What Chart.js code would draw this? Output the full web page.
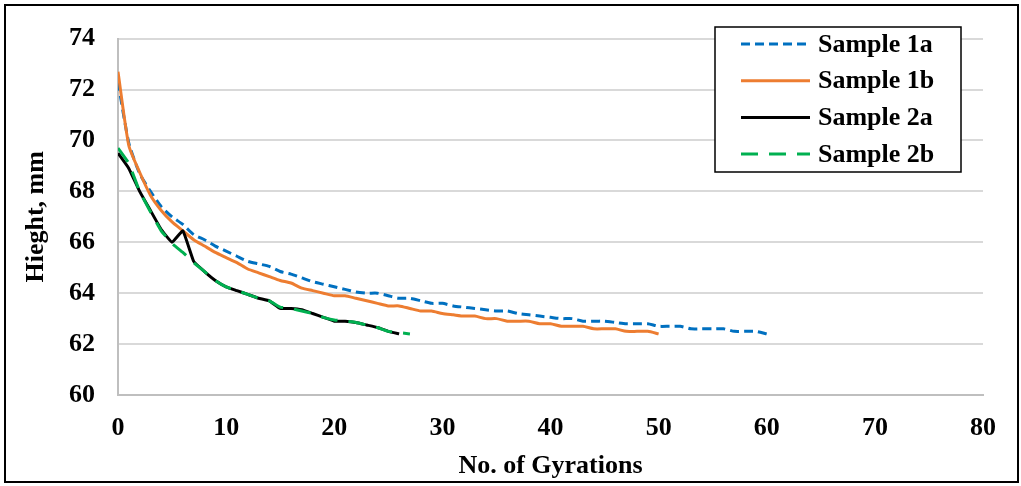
<!DOCTYPE html>
<html>
<head>
<meta charset="utf-8">
<script src="https://cdn.jsdelivr.net/npm/chart.js@4.4.0/dist/chart.umd.min.js"></script>
<style>
  html, body { margin: 0; padding: 0; background: #fff; }
  canvas { display: block; }
</style>
</head>
<body>
<canvas id="gyr" width="1021" height="486"></canvas>
<script>
// heights (mm) read per gyration, starting at gyration 0
const sample1a = [72.3, 69.9, 68.7, 68.0, 67.4, 67.0, 66.7, 66.3, 66.1, 65.85,
  65.65, 65.45, 65.25, 65.15, 65.05, 64.85, 64.75, 64.6, 64.45, 64.35,
  64.25, 64.15, 64.05, 64.0, 64.0, 63.9, 63.8, 63.8, 63.7, 63.6,
  63.6, 63.5, 63.45, 63.4, 63.35, 63.3, 63.3, 63.2, 63.15, 63.1,
  63.05, 63.0, 63.0, 62.9, 62.9, 62.9, 62.85, 62.8, 62.8, 62.8,
  62.7, 62.7, 62.7, 62.6, 62.6, 62.6, 62.6, 62.5, 62.5, 62.5, 62.4];
const sample1b = [72.7, 69.8, 68.75, 67.85, 67.25, 66.8, 66.45, 66.1, 65.85, 65.6,
  65.4, 65.2, 64.95, 64.8, 64.65, 64.5, 64.4, 64.2, 64.1, 64.0,
  63.9, 63.9, 63.8, 63.7, 63.6, 63.5, 63.5, 63.4, 63.3, 63.3,
  63.2, 63.15, 63.1, 63.1, 63.0, 63.0, 62.9, 62.9, 62.9, 62.8,
  62.8, 62.7, 62.7, 62.7, 62.6, 62.6, 62.6, 62.5, 62.5, 62.5, 62.4];
const sample2a = [69.5, 68.9, 68.0, 67.25, 66.5, 66.0, 66.45, 65.25, 64.85, 64.5,
  64.25, 64.1, 63.95, 63.8, 63.7, 63.4, 63.4, 63.35, 63.2, 63.05,
  62.9, 62.9, 62.85, 62.75, 62.65, 62.5, 62.4];
const sample2b = [69.7, 69.1, 68.0, 67.2, 66.45, 65.95, 65.6, 65.2, 64.85, 64.5,
  64.25, 64.1, 63.95, 63.8, 63.7, 63.45, 63.4, 63.3, 63.2, 63.05,
  62.95, 62.9, 62.85, 62.75, 62.65, 62.5, 62.45, 62.4];

const seriesNames = ['Sample 1a', 'Sample 1b', 'Sample 2a', 'Sample 2b'];
const xTitle = 'No. of Gyrations';
const yTitle = 'Hieght, mm';

const FONT = "'Liberation Serif', 'Times New Roman', serif";

function pts(arr) {
  return arr.map((v, i) => ({x: i, y: v}));
}

// white page + thin black frame
const frame = {
  id: 'frame',
  beforeDraw(chart) {
    const c = chart.ctx;
    c.save();
    c.fillStyle = '#fff';
    c.fillRect(0, 0, chart.width, chart.height);
    c.strokeStyle = '#000';
    c.lineWidth = 2;
    c.strokeRect(5, 5, 1013, 477);
    c.restore();
  }
};

// boxed legend like the excel one
const boxLegend = {
  id: 'boxLegend',
  afterDraw(chart) {
    const c = chart.ctx;
    c.save();
    c.fillStyle = '#fff';
    c.fillRect(715, 27, 246, 145);
    c.strokeStyle = '#000';
    c.lineWidth = 1.5;
    c.strokeRect(715, 27, 246, 145);
    chart.data.datasets.forEach((ds, i) => {
      const y = 44 + i * 36.7;
      c.beginPath();
      c.setLineDash(ds.borderDash || []);
      c.strokeStyle = ds.borderColor;
      c.lineWidth = ds.borderWidth;
      c.moveTo(741, y);
      c.lineTo(810, y);
      c.stroke();
      c.setLineDash([]);
      c.fillStyle = '#000';
      c.font = 'bold 26px ' + FONT;
      c.textBaseline = 'middle';
      c.fillText(ds.label, 818, y + 1);
    });
    c.restore();
  }
};

const chrt = document.getElementById('gyr').getContext('2d');
const gyr = new Chart(chrt, {
  type: 'line',
  data: {
    datasets: [{
      label: seriesNames[0],
      data: pts(sample1a),
      borderColor: '#0070C0',
      borderWidth: 3,
      borderDash: [9, 5],
      pointRadius: 0,
      tension: 0.2,
      order: 4
    }, {
      label: seriesNames[1],
      data: pts(sample1b),
      borderColor: '#ED7D31',
      borderWidth: 3,
      pointRadius: 0,
      tension: 0.2,
      order: 3
    }, {
      label: seriesNames[2],
      data: pts(sample2a),
      borderColor: '#000000',
      borderWidth: 3,
      pointRadius: 0,
      tension: 0.1,
      order: 2
    }, {
      label: seriesNames[3],
      data: pts(sample2b),
      borderColor: '#00B050',
      borderWidth: 3,
      borderDash: [17, 11],
      pointRadius: 0,
      tension: 0.1,
      order: 1
    }]
  },
  options: {
    responsive: false,
    animation: false,
    layout: { padding: { top: 35, right: 38, left: 0, bottom: 0 } },
    plugins: {
      legend: { display: false },
      tooltip: { enabled: false }
    },
    scales: {
      x: {
        type: 'linear',
        min: 0,
        max: 80,
        afterFit(s) { s.height = 91; },
        ticks: {
          stepSize: 10,
          padding: 18,
          color: '#000',
          font: { family: FONT, size: 26, weight: 'bold' }
        },
        grid: { display: false, drawTicks: false },
        border: { color: '#BFBFBF', width: 2 },
        title: {
          display: true,
          text: xTitle,
          color: '#000',
          padding: { top: 0, bottom: 4 },
          font: { family: FONT, size: 26, weight: 'bold' }
        }
      },
      y: {
        min: 60,
        max: 74,
        afterFit(s) { s.width = 118; },
        ticks: {
          stepSize: 2,
          padding: 23,
          color: '#000',
          font: { family: FONT, size: 26, weight: 'bold' }
        },
        grid: { color: '#D9D9D9', lineWidth: 2, drawTicks: false },
        border: { color: '#BFBFBF', width: 2 },
        title: {
          display: true,
          text: yTitle,
          color: '#000',
          padding: { top: 21, bottom: 0 },
          font: { family: FONT, size: 26, weight: 'bold' }
        }
      }
    }
  },
  plugins: [frame, boxLegend]
});
</script>
</body>
</html>
